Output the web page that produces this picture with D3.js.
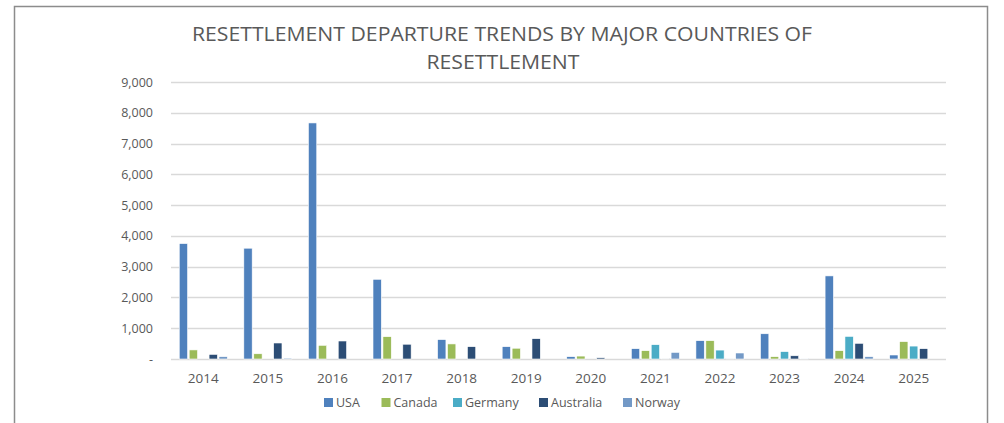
<!DOCTYPE html>
<html>
<head>
<meta charset="utf-8">
<script src="https://cdn.jsdelivr.net/npm/d3@7"></script>
<style>
  body { margin: 0; background: #fff; }
  text { font-family: "Open Sans", "Liberation Sans", sans-serif; fill: #595959; }
</style>
</head>
<body>
<div id="chart"></div>
<script>
// data
var years = ["2014","2015","2016","2017","2018","2019","2020","2021","2022","2023","2024","2025"];
var countries = ["USA","Canada","Germany","Australia","Norway"];
var usa       = [3750, 3600, 7670, 2590, 630, 400,  75, 335, 595, 820, 2700, 130];
var canada    = [ 295,  170,  445,  725, 490, 350,  95, 270, 595,  75,  270, 565];
var germany   = [   0,    0,    0,    0,   0,   0,   0, 465, 290, 240,  735, 420];
var australia = [ 150,  520,  585,  480, 400, 660,  40,  15,  15, 105,  510, 335];
var norway    = [  75,   30,    0,    0,   0,   0,   0, 215, 195,  15,   75,   0];
var colors = ["#4f81bd", "#9bbb59", "#4bacc6", "#2c4d75", "#7399c6"];
var yTicks = [0, 1000, 2000, 3000, 4000, 5000, 6000, 7000, 8000, 9000];

var series = [usa, canada, germany, australia, norway];
var W = 1004, H = 423;

var svg = d3.select("#chart").append("svg")
    .attr("width", W)
    .attr("height", H);

// chart frame
svg.append("rect")
    .attr("x", 14.5).attr("y", 6.5)
    .attr("width", 973).attr("height", 440)
    .attr("fill", "none")
    .attr("stroke", "#8c8c8c")
    .attr("stroke-width", 1.5);

// title
var title = svg.append("g");
title.append("text")
    .attr("x", 502).attr("y", 41)
    .attr("text-anchor", "middle")
    .attr("textLength", 620).attr("lengthAdjust", "spacingAndGlyphs")
    .style("font-size", "20px")
    .text("RESETTLEMENT DEPARTURE TRENDS BY MAJOR COUNTRIES OF");
title.append("text")
    .attr("x", 503).attr("y", 69)
    .attr("text-anchor", "middle")
    .attr("textLength", 153).attr("lengthAdjust", "spacingAndGlyphs")
    .style("font-size", "20px")
    .text("RESETTLEMENT");

var x0 = d3.scaleBand().domain(years).range([171, 946]);
var x1 = d3.scaleBand().domain(countries).range([0, x0.bandwidth()]).paddingOuter(0.75);
var y = d3.scaleLinear().domain([0, 9000]).range([359, 82]);

// gridlines
svg.append("g").selectAll("line").data(yTicks)
  .enter().append("line")
    .attr("x1", 171).attr("x2", 946)
    .attr("y1", function(d){ return Math.round(y(d)) + 0.5; })
    .attr("y2", function(d){ return Math.round(y(d)) + 0.5; })
    .attr("stroke", "#d9d9d9")
    .attr("stroke-width", 1.3);

// y axis labels
var yAxis = d3.axisLeft(y).tickValues(yTicks).tickSize(0).tickPadding(0)
    .tickFormat(function(d){ return d === 0 ? "-" : d3.format(",")(d); });
var ya = svg.append("g").attr("transform", "translate(153,0)").call(yAxis);
ya.select(".domain").remove();
ya.selectAll("text").style("font-size", "12.5px").attr("fill", "#595959");

// x axis labels
var xAxis = d3.axisBottom(x0).tickSize(0).tickPadding(0);
var xa = svg.append("g").attr("transform", "translate(0,373)").call(xAxis);
xa.select(".domain").remove();
xa.selectAll("text").style("font-size", "13.5px").attr("fill", "#595959");

// bars
var groups = svg.append("g").selectAll("g").data(years)
  .enter().append("g")
    .attr("transform", function(d){ return "translate(" + x0(d) + ",0)"; });

groups.selectAll("rect")
    .data(function(d, i){ return countries.map(function(c, j){ return {c: c, v: series[j][i], k: j}; }); })
  .enter().append("rect")
    .filter(function(d){ return d.v > 0; })
    .attr("x", function(d){ return x1(d.c) + 0.8; })
    .attr("width", x1.bandwidth() - 1.6)
    .attr("y", function(d){ return y(d.v); })
    .attr("height", function(d){ return y(0) - y(d.v); })
    .attr("fill", function(d){ return colors[d.k]; })
    .attr("stroke", "#ffffff")
    .attr("stroke-width", 0.6);

// legend
var legendX = [324, 381.5, 453, 539, 623];
var legend = svg.append("g").selectAll("g").data(countries)
  .enter().append("g")
    .attr("transform", function(d, i){ return "translate(" + legendX[i] + ",398)"; });
legend.append("rect")
    .attr("width", 9).attr("height", 9)
    .attr("fill", function(d, i){ return colors[i]; });
legend.append("text")
    .attr("x", 12).attr("y", 9)
    .style("font-size", "12.5px")
    .text(function(d){ return d; });
</script>
</body>
</html>
